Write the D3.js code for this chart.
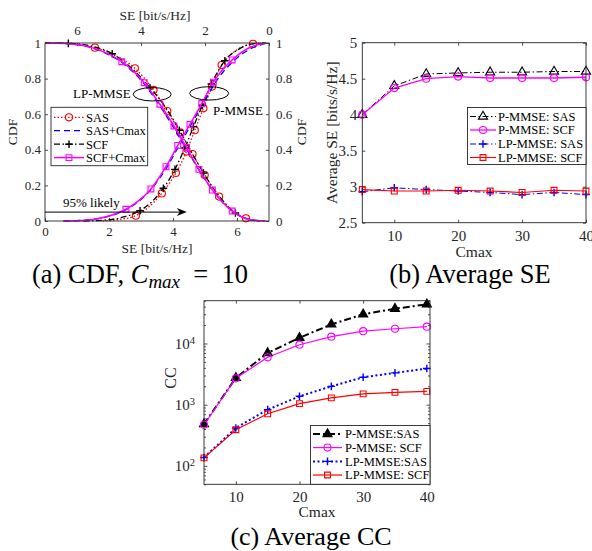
<!DOCTYPE html>
<html><head><meta charset="utf-8">
<script src="https://cdn.jsdelivr.net/npm/d3@7"></script>
<style>body{margin:0;background:#fff}svg{display:block}</style>
</head><body>
<script>
// ---------------- DATA ----------------
// (a) CDF curves: [SE, CDF, marker?]
// P-MMSE (rising, bottom axis)
const pSAS = [[1.8,0],[2.3,0.008],[2.84,0.03,1],[3.25,0.08],[3.65,0.155,1],[4.09,0.27,1],[4.42,0.39,1],[4.68,0.51,1],[4.95,0.633,1],[5.22,0.755,1],[5.52,0.876,1],[5.95,0.955],[6.5,0.995,1],[6.9,1]];
const pSASC = [[0.6,0],[1.2,0.004],[2.0,0.027],[2.6,0.07],[3.3,0.175],[3.8,0.3],[4.18,0.42],[4.56,0.54],[4.95,0.66],[5.33,0.78],[5.9,0.9],[6.4,0.965],[6.95,1]];
const pSCF = [[1.2,0],[1.8,0.004],[2.4,0.02],[2.97,0.058,1],[3.35,0.11],[3.70,0.184,1],[4.06,0.29,1],[4.37,0.41,1],[4.64,0.53,1],[4.92,0.65,1],[5.2,0.77,1],[5.62,0.9,1],[6.1,0.97],[6.55,0.997],[6.9,1]];
const pSCFC = [[0.56,0],[1.0,0.002],[1.5,0.009],[2.0,0.028],[2.53,0.066,1],[2.9,0.11],[3.31,0.18,1],[3.78,0.305,1],[4.15,0.425,1],[4.53,0.543,1],[4.9,0.66,1],[5.26,0.78,1],[5.85,0.905,1],[6.4,0.975],[6.9,1]];
// LP-MMSE (falling, top reversed axis)
const lpSAS = [[0.3,0],[0.72,0.015,1],[1.1,0.05],[1.56,0.137,1],[2.01,0.258,1],[2.39,0.376,1],[2.78,0.498,1],[3.18,0.618,1],[3.61,0.736,1],[4.19,0.858,1],[4.8,0.93],[5.44,0.974,1],[6.2,0.997],[7,1]];
const lpSASC = [[0.15,0],[0.6,0.009],[1.15,0.055],[1.75,0.17],[2.2,0.29],[2.6,0.41],[3.0,0.53],[3.42,0.65],[3.9,0.77],[4.6,0.89],[5.3,0.958],[6.2,0.995],[7,1]];
const lpSCF = [[0.25,0],[0.7,0.012],[1.05,0.045,1],[1.6,0.15],[2.05,0.27,1],[2.43,0.39],[2.8,0.51,1],[3.2,0.63],[3.72,0.749,1],[4.3,0.86],[4.9,0.94,1],[5.5,0.98],[6.27,0.998,1],[7,1]];
const lpSCFC = [[0.1,0],[0.6,0.008],[1.15,0.056,1],[1.77,0.174,1],[2.19,0.29,1],[2.58,0.413,1],[2.97,0.534,1],[3.41,0.656,1],[3.90,0.777,1],[4.60,0.895,1],[5.3,0.96],[6.2,0.995],[7,1]];
const cdfLabels = ["SAS","SAS+Cmax","SCF","SCF+Cmax"];
const cdfTicksX = [0,2,4,6];
const cdfTicksY = [0,0.2,0.4,0.6,0.8,1];
const likelySE = 4.43, likelyCDF = 0.05;

// (b) Average SE
const cmax = [5,10,15,20,25,30,35,40];
const seP_SAS  = [4.00,4.40,4.565,4.58,4.59,4.59,4.60,4.60];
const seP_SCF  = [4.00,4.37,4.50,4.53,4.51,4.51,4.51,4.52];
const seLP_SAS = [2.93,2.985,2.96,2.94,2.92,2.89,2.92,2.89];
const seLP_SCF = [2.96,2.94,2.94,2.95,2.94,2.92,2.95,2.94];
const seLabels = ["P-MMSE: SAS","P-MMSE: SCF","LP-MMSE: SAS","LP-MMSE: SCF"];
const seTicksY = [2.5,3,3.5,4,4.5,5];
const cmaxTicks = [10,20,30,40];

// (c) Average CC
const ccP_SAS  = [480,2750,7000,12400,20500,29900,37000,43600];
const ccP_SCF  = [470,2700,5950,9550,12900,15900,17400,18800];
const ccLP_SAS = [137,415,830,1370,1990,2800,3310,3890];
const ccLP_SCF = [135,390,710,1040,1290,1500,1590,1650];
const ccLabels = ["P-MMSE:SAS","P-MMSE: SCF","LP-MMSE:SAS","LP-MMSE: SCF"];
const ccTicksY = [100,1000,10000];

// ---------------- DRAW ----------------
const FONT = "'Liberation Serif','Times New Roman',serif";
const AX = "#262626";
const fmt = d3.format("~g");
const svg = d3.select("body").append("svg").attr("width",592).attr("height",551)
  .attr("font-family",FONT);

function styleAxis(g,fs){
  g.select(".domain").remove();
  g.selectAll(".tick line").attr("stroke",AX).attr("stroke-width",0.8);
  g.selectAll(".tick text").attr("fill",AX).attr("font-size",fs).attr("font-family",FONT);
}
function box(x0,y0,x1,y1){
  svg.append("rect").attr("x",x0).attr("y",y0).attr("width",x1-x0).attr("height",y1-y0)
    .attr("fill","none").attr("stroke",AX).attr("stroke-width",0.9);
}
function marker(g,type,x,y,color,filled){
  if(!type) return;
  if(type==="plus"){
    g.append("path").attr("d",`M${x-3.8},${y}H${x+3.8}M${x},${y-3.8}V${y+3.8}`)
      .attr("stroke",color).attr("stroke-width",1.4).attr("fill","none");
    return;
  }
  const sym = {circle:d3.symbolCircle,square:d3.symbolSquare,triangle:d3.symbolTriangle}[type];
  const size = {circle:40,square:34,triangle:36}[type];
  g.append("path").attr("d",d3.symbol(sym,size)()).attr("transform",`translate(${x},${y})`)
    .attr("stroke",color).attr("stroke-width",1.1).attr("fill",filled?color:"none");
}
function legend(x0,y0,w,h,rows,items,lx0,lx1,tx,fs){
  svg.append("rect").attr("x",x0).attr("y",y0).attr("width",w).attr("height",h)
    .attr("fill","#fff").attr("stroke",AX).attr("stroke-width",0.9);
  const g = svg.append("g");
  items.forEach((it,i)=>{
    const y = rows[i];
    g.append("line").attr("x1",lx0).attr("x2",lx1).attr("y1",y).attr("y2",y)
      .attr("stroke",it.color).attr("stroke-width",it.lw).attr("stroke-dasharray",it.dash||null);
    marker(g,it.marker,(lx0+lx1)/2,y,it.color,it.filled);
    g.append("text").attr("x",tx).attr("y",y).attr("dy","0.35em").attr("font-size",fs)
      .attr("fill","#000").text(it.label);
  });
}

// ===== Panel (a) =====
const xA = d3.scaleLinear().domain([0,7]).range([45,269]);
const xT = d3.scaleLinear().domain([0,7]).range([269,45]);
const yA = d3.scaleLinear().domain([0,1]).range([221,43]);
{
  const fs = 13;
  svg.append("g").attr("transform","translate(0,221)")
    .call(d3.axisBottom(xA).tickValues(cdfTicksX).tickFormat(fmt).tickSizeInner(-3).tickSizeOuter(0).tickPadding(6))
    .call(g=>styleAxis(g,fs));
  svg.append("g").attr("transform","translate(0,43)")
    .call(d3.axisTop(xT).tickValues(cdfTicksX).tickFormat(fmt).tickSizeInner(-3).tickSizeOuter(0).tickPadding(8))
    .call(g=>styleAxis(g,fs));
  svg.append("g").attr("transform","translate(45,0)")
    .call(d3.axisLeft(yA).tickValues(cdfTicksY).tickFormat(fmt).tickSizeInner(-3).tickSizeOuter(0).tickPadding(4))
    .call(g=>styleAxis(g,fs));
  svg.append("g").attr("transform","translate(269,0)")
    .call(d3.axisRight(yA).tickValues(cdfTicksY).tickFormat(fmt).tickSizeInner(-3).tickSizeOuter(0).tickPadding(7))
    .call(g=>styleAxis(g,fs));

  const styles = [
    {color:"#ff0000",dash:"1.5,2",lw:1.3,marker:"circle"},
    {color:"#0000ff",dash:"6,4",lw:1.3,marker:null},
    {color:"#000000",dash:"6,2.5,1.5,2.5",lw:1.3,marker:"plus"},
    {color:"#ff00ff",dash:null,lw:1.5,marker:"square"}
  ];
  const gA = svg.append("g");
  function drawCDF(data,xs,st){
    const pts = data.map(d=>[xs(d[0]),yA(d[1]),d[2]]).sort((a,b)=>a[0]-b[0]);
    gA.append("path").attr("d",d3.line().curve(d3.curveMonotoneX)(pts.map(p=>[p[0],p[1]])))
      .attr("fill","none").attr("stroke",st.color).attr("stroke-width",st.lw)
      .attr("stroke-dasharray",st.dash);
    if(st.marker) pts.filter(p=>p[2]).forEach(p=>marker(gA,st.marker,p[0],p[1],st.color,false));
  }
  [[pSAS,lpSAS],[pSASC,lpSASC],[pSCF,lpSCF],[pSCFC,lpSCFC]].forEach((pair,i)=>{
    drawCDF(pair[0],xA,styles[i]);
    drawCDF(pair[1],xT,styles[i]);
  });
  box(45,43,269,221);

  // annotations
  svg.append("text").attr("x",73).attr("y",97.5).attr("font-size",13).text("LP-MMSE");
  svg.append("text").attr("x",213).attr("y",114.5).attr("font-size",13).text("P-MMSE");
  svg.append("ellipse").attr("cx",xA(3.35)).attr("cy",yA(0.712)).attr("rx",19).attr("ry",6.7)
    .attr("fill","none").attr("stroke","#000").attr("stroke-width",1);
  svg.append("ellipse").attr("cx",xA(5.13)).attr("cy",yA(0.717)).attr("rx",19.5).attr("ry",6.7)
    .attr("fill","none").attr("stroke","#000").attr("stroke-width",1);
  svg.append("text").attr("x",63).attr("y",207).attr("font-size",13).text("95% likely");
  const ay = yA(likelyCDF), ax0 = xA(0), ax1 = xA(likelySE);
  svg.append("line").attr("x1",ax0).attr("x2",ax1-4).attr("y1",ay).attr("y2",ay).attr("stroke","#000").attr("stroke-width",1);
  svg.append("path").attr("d",`M${ax1},${ay}L${ax1-10},${ay-4}L${ax1-7},${ay}L${ax1-10},${ay+4}Z`).attr("fill","#000");

  legend(51,107.3,96.7,58.4,[117.3,130.6,144.2,157.6],
    cdfLabels.map((l,i)=>({...styles[i],label:l})),54,84,86,12.5);

  // axis labels
  svg.append("text").attr("x",157).attr("y",253).attr("text-anchor","middle").attr("font-size",13.5).attr("fill",AX).text("SE [bit/s/Hz]");
  svg.append("text").attr("x",155).attr("y",20).attr("text-anchor","middle").attr("font-size",13.5).attr("fill",AX).text("SE [bit/s/Hz]");
  svg.append("text").attr("transform","translate(17,132) rotate(-90)").attr("text-anchor","middle").attr("font-size",13.5).attr("fill",AX).text("CDF");
  svg.append("text").attr("transform","translate(306,132) rotate(-90)").attr("text-anchor","middle").attr("font-size",13.5).attr("fill",AX).text("CDF");

  // caption
  const cap = svg.append("text").attr("x",140).attr("y",282.5).attr("text-anchor","middle").attr("font-size",26.5);
  cap.append("tspan").text("(a) CDF, ");
  cap.append("tspan").attr("font-style","italic").text("C");
  cap.append("tspan").attr("font-style","italic").attr("font-size",19).attr("dy",5).text("max");
  cap.append("tspan").attr("dy",-5).text("\u2002=\u200210");
}

// ===== Panel (b) =====
const xB = d3.scaleLinear().domain([5,40]).range([362.3,586]);
const yB = d3.scaleLinear().domain([2.5,5]).range([222.7,42.7]);
{
  const fs = 15;
  svg.append("g").attr("transform","translate(0,222.7)")
    .call(d3.axisBottom(xB).tickValues(cmaxTicks).tickSizeInner(-3).tickSizeOuter(0).tickPadding(8))
    .call(g=>styleAxis(g,fs));
  svg.append("g").attr("transform","translate(0,42.7)")
    .call(d3.axisTop(xB).tickValues(cmaxTicks).tickFormat("").tickSizeInner(-3).tickSizeOuter(0))
    .call(g=>styleAxis(g,fs));
  svg.append("g").attr("transform","translate(362.3,0)")
    .call(d3.axisLeft(yB).tickValues(seTicksY).tickFormat(fmt).tickSizeInner(-3).tickSizeOuter(0).tickPadding(5))
    .call(g=>styleAxis(g,fs));
  svg.append("g").attr("transform","translate(586,0)")
    .call(d3.axisRight(yB).tickValues(seTicksY).tickFormat("").tickSizeInner(-3).tickSizeOuter(0))
    .call(g=>styleAxis(g,fs));

  const styles = [
    {color:"#000000",dash:"6,2.5,1.5,2.5",lw:1,marker:"triangle"},
    {color:"#ff00ff",dash:null,lw:1.3,marker:"circle"},
    {color:"#0000ff",dash:"6,2.5,1.5,2.5",lw:1,marker:"plus"},
    {color:"#ff0000",dash:null,lw:1.1,marker:"square"}
  ];
  const series = [seP_SAS,seP_SCF,seLP_SAS,seLP_SCF];
  const gB = svg.append("g");
  series.forEach((s,i)=>{
    const st = styles[i];
    gB.append("path").datum(s).attr("d",d3.line().x((d,j)=>xB(cmax[j])).y(d=>yB(d)))
      .attr("fill","none").attr("stroke",st.color).attr("stroke-width",st.lw).attr("stroke-dasharray",st.dash);
    s.forEach((v,j)=>marker(gB,st.marker,xB(cmax[j]),yB(v),st.color,false));
  });
  box(362.3,42.7,586,222.7);
  legend(467.5,107.5,118.5,57,[116.5,130,144,157.5],
    seLabels.map((l,i)=>({...styles[i],label:l})),470,496,498,12.5);

  svg.append("text").attr("x",474).attr("y",257).attr("text-anchor","middle").attr("font-size",15.5).attr("fill",AX).text("Cmax");
  svg.append("text").attr("transform","translate(337,132.7) rotate(-90)").attr("text-anchor","middle").attr("font-size",15.5).attr("fill",AX).text("Average SE [bits/s/Hz]");
  svg.append("text").attr("x",470).attr("y",282.5).attr("text-anchor","middle").attr("font-size",26.5).text("(b) Average SE");
}

// ===== Panel (c) =====
const xC = d3.scaleLinear().domain([5,40.5]).range([204,430]);
const yC = d3.scaleLog().domain([50,50000]).range([484.3,300.7]);
{
  const fs = 15;
  const minor = [];
  for(let e=1;e<=4;e++) for(let m=2;m<=9;m++){const v=m*Math.pow(10,e); if(v>=50&&v<=50000) minor.push(v);}
  svg.append("g").attr("transform","translate(0,484.3)")
    .call(d3.axisBottom(xC).tickValues(cmaxTicks).tickSizeInner(-3).tickSizeOuter(0).tickPadding(7))
    .call(g=>styleAxis(g,fs));
  svg.append("g").attr("transform","translate(0,300.7)")
    .call(d3.axisTop(xC).tickValues(cmaxTicks).tickFormat("").tickSizeInner(-3).tickSizeOuter(0))
    .call(g=>styleAxis(g,fs));
  const yl = svg.append("g").attr("transform","translate(204,0)")
    .call(d3.axisLeft(yC).tickValues(ccTicksY).tickFormat(d=>"10").tickSizeInner(-3.5).tickSizeOuter(0).tickPadding(9))
    .call(g=>styleAxis(g,fs));
  yl.selectAll(".tick text").each(function(d){
    d3.select(this).append("tspan").attr("dy","-0.45em").attr("font-size",10.5).text(Math.round(Math.log10(d)));
  });
  svg.append("g").attr("transform","translate(204,0)")
    .call(d3.axisLeft(yC).tickValues(minor).tickFormat("").tickSizeInner(-2).tickSizeOuter(0))
    .call(g=>styleAxis(g,fs));
  svg.append("g").attr("transform","translate(430,0)")
    .call(d3.axisRight(yC).tickValues(ccTicksY).tickFormat("").tickSizeInner(-3.5).tickSizeOuter(0))
    .call(g=>styleAxis(g,fs));
  svg.append("g").attr("transform","translate(430,0)")
    .call(d3.axisRight(yC).tickValues(minor).tickFormat("").tickSizeInner(-2).tickSizeOuter(0))
    .call(g=>styleAxis(g,fs));

  const styles = [
    {color:"#000000",dash:"7,3,2,3",lw:2,marker:"triangle",filled:true},
    {color:"#ff00ff",dash:null,lw:1.2,marker:"circle"},
    {color:"#0000ff",dash:"2,2.5",lw:2,marker:"plus"},
    {color:"#ff0000",dash:null,lw:1.2,marker:"square"}
  ];
  const series = [ccP_SAS,ccP_SCF,ccLP_SAS,ccLP_SCF];
  const gC = svg.append("g");
  series.forEach((s,i)=>{
    const st = styles[i];
    gC.append("path").datum(s).attr("d",d3.line().x((d,j)=>xC(cmax[j])).y(d=>yC(d)))
      .attr("fill","none").attr("stroke",st.color).attr("stroke-width",st.lw).attr("stroke-dasharray",st.dash);
  });
  series.forEach((s,i)=>{
    const st = styles[i];
    s.forEach((v,j)=>marker(gC,st.marker,xC(cmax[j]),yC(v),st.color,st.filled));
  });
  box(204,300.7,430,484.3);
  legend(310.5,425.5,119.5,58.8,[434,447.6,461.4,475],
    ccLabels.map((l,i)=>({...styles[i],label:l})),313,342,345,12.5);

  svg.append("text").attr("x",317).attr("y",517).attr("text-anchor","middle").attr("font-size",15.5).attr("fill",AX).text("Cmax");
  svg.append("text").attr("transform","translate(176,378) rotate(-90)").attr("text-anchor","middle").attr("font-size",16).attr("fill",AX).text("CC");
  svg.append("text").attr("x",311).attr("y",545).attr("text-anchor","middle").attr("font-size",26).text("(c) Average CC");
}
</script>
</body></html>
